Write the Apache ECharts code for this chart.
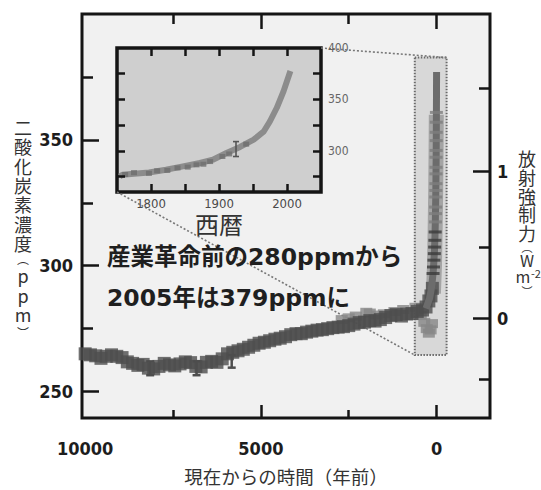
<!DOCTYPE html>
<html><head><meta charset="utf-8">
<script src="https://cdn.jsdelivr.net/npm/echarts@6/dist/echarts.min.js"></script>
<style>html,body{margin:0;padding:0;background:#fff}#c{width:541px;height:490px}</style>
</head><body><div id="c"></div>
<script>
// ---------- data ----------
// main panel: years before present -> CO2 (ppm)
const bandYears = [10000,9850,9700,9550,9400,9250,9100,8950,8800,8650,8500,8350,8200,8050,7900,7750,7600,7450,7300,7150,7000,6850,6700,6550,6400,6250,6100,5950,5800,5650,5500,5350,5200,5050,4900,4750,4600,4450,4300,4150,4000,3850,3700,3550,3400,3250,3100,2950,2800,2650,2500,2350,2200,2050,1900,1750,1600,1450,1300,1150,1000,850,700,550,400,300,220,160,120];
const bandPPM = [265.0,264.6,264.2,263.2,264.0,264.6,264.0,263.5,261.8,261.2,260.4,260.8,259.3,259.0,260.0,261.2,260.6,260.2,261.0,261.8,261.5,260.0,259.8,261.6,262.0,261.6,263.0,265.0,265.6,266.2,266.8,267.6,268.4,269.2,269.6,270.2,270.8,271.2,271.8,272.6,273.0,273.0,273.6,274.0,274.4,274.6,275.0,275.4,275.6,275.8,276.2,276.8,277.4,277.6,278.2,278.0,278.6,279.4,280.2,280.6,280.0,280.8,281.0,281.8,282.4,283.6,286.0,288.0,291.0];
const midYears = [2700,2500,2300,2000,1900,1700,1500,1200,950,600,450,350,280,220,170,130];
const midPPM = [278.6,279.3,280.0,281.5,281.2,280.4,280.9,281.8,282.6,283.5,280.2,277.5,275.0,273.2,274.5,277.0];
const errYears = [8150,6830,5830];
const errLow = [256.5,256.5,259.5];
const errHigh = [262.0,262.0,264.5];
const spikeYears = [300,250,200,160,130,100,80,60,45,35,25,18,12,8,4,0];
const spikePPM = [283,285,287,290,293,297,301,306,312,318,326,334,343,352,364,377];
const spikeWideYears = [90,60,40,25,15,8];
const spikeWidePPM = [289,300,315,330,345,360];
const spikeDarkYears = [100,88,75,63,55,48,40];
const spikeDarkPPM = [296.9,299.5,302.2,304.8,307.4,310.1,313.4];
const spikeLightYears = [33,30,27,24,21,19,17,15,14,12,10,9,7,5];
const spikeLightPPM = [317.4,320.7,323.3,327.3,329.9,332.6,336.5,339.1,343.1,345.8,349.7,353.0,357.0,360.9];
// highlighted period (schematic box) in main-panel units
const zoomBoxYears = [620, -285];
const zoomBoxPPM = [264.5, 382.7];
// inset: calendar year -> CO2 (ppm)
const insetYears = [1754,1758,1797,1822,1847,1872,1891,1911,1931,1951,1966,1975,1985,1995,2005];
const insetPPM = [275.1,276.8,279.0,281.6,284.9,288.2,291.4,297.9,303.8,310.9,319.0,328.8,341.9,358.1,377.6];
const insetSqYears = [1762,1775,1797,1809,1824,1839,1854,1867,1877,1887,1905,1915,1940];
const insetSqPPM = [277.0,278.8,278.2,280.6,281.0,283.4,284.2,286.4,287.0,289.6,294.5,297.0,306.5];
const insetErrYears = [1925];
const insetErrLow = [294.5];
const insetErrHigh = [309.0];
// axes
const xTickMajor = [0,5000];
const xTickMinor = [2500,7500];
const xLabels = [0,5000,10000];
const yTickMajor = [250,300,350];
const yTickMinor = [275,325,375];
const forcingPPM = [279.0,337.6];
const forcingText = ['0','1'];
const forcingMinorPPM = [254.9,307.5,370.5];
const insetXTicks = [1800,1850,1900,1950,2000];
const insetXLabels = [1800,1900,2000];
const insetYTicks = [275,300,325,350,375];
const insetYLabels = [300,350,400];
const X_MIN = -1520, X_MAX = 10090, Y_MIN = 239.5, Y_MAX = 400;
const IX_MIN = 1750, IX_MAX = 2050, IY_MIN = 260, IY_MAX = 400;
// titles (vertical, one glyph per line)
const yTitle = ['二','酸','化','炭','素','濃','度','︵','p','p','m','︶'];
const rTitle = ['放','射','強','制','力','︵','W','m','︶'];
const annotation = ['産業革命前の280ppmから','2005年は379ppmに'];

// ---------- layout ----------
const yTitleY = [127,146,166,185,204,224,243,258,275,295,314,332];
const rTitleY = [158,177,196,214,233,247,260,276,291];
const NUM = "'DejaVu Sans Condensed','DejaVu Sans',sans-serif";
const JP = "'Noto Sans CJK JP','Noto Sans',sans-serif";
const ANN = "'DejaVu Sans','Noto Sans CJK JP',sans-serif";
const TK = {color:'#151515', width:2.5};
const pairs = (a,b) => a.map((v,i)=>[v,b[i]]);
const plain = v => String(Math.round(v));
const isParen = ch => ch === '︵' || ch === '︶';

function ax(o){ return Object.assign({type:'value', splitLine:{show:false}, axisLine:{show:false, onZero:false}}, o); }

const chart = echarts.init(document.getElementById('c'), null, {renderer:'svg'});

const errRender = (w, color, lw) => (params, api) => {
  const t = api.coord([api.value(0), api.value(2)]);
  const b = api.coord([api.value(0), api.value(1)]);
  const st = {stroke:color, lineWidth:lw};
  return {type:'group', children:[
    {type:'line', shape:{x1:t[0],y1:t[1],x2:b[0],y2:b[1]}, style:st},
    {type:'line', shape:{x1:t[0]-w,y1:t[1],x2:t[0]+w,y2:t[1]}, style:st},
    {type:'line', shape:{x1:b[0]-w,y1:b[1],x2:b[0]+w,y2:b[1]}, style:st}
  ]};
};

const titleGraphics = [];
yTitle.forEach((ch,i)=>titleGraphics.push({id:'yt'+i, type:'text', x:23, y:yTitleY[i], z:10,
  style:{text:ch, fontSize:isParen(ch)?12:18, lineHeight:isParen(ch)?11:19, fontFamily:JP, fill:'#333', align:'center', verticalAlign:'middle'}}));
rTitle.forEach((ch,i)=>titleGraphics.push({id:'rt'+i, type:'text', x:(ch==='m'?523:527), y:rTitleY[i], z:10,
  style:{text:ch, fontSize:isParen(ch)?11:(ch==='W'||ch==='m'?16:18), lineHeight:isParen(ch)?10:(ch==='W'||ch==='m'?14:18),
    fontFamily:JP, fill:'#333', align:'center', verticalAlign:'middle'}}));
titleGraphics.push({id:'rtsup', type:'text', x:531, y:273, z:10,
  style:{text:'-2', fontSize:11, lineHeight:9, fontFamily:JP, fill:'#333', align:'left', verticalAlign:'middle'}});

const option = {
  animation:false,
  backgroundColor:'#ffffff',
  grid:[
    {left:82, right:51, top:14, bottom:72, outerBoundsMode:'none', containLabel:false, show:true, backgroundColor:'#f1f1f1', borderColor:'#151515', borderWidth:3, z:0},
    {left:117, right:220, top:48, bottom:298, outerBoundsMode:'none', containLabel:false, show:true, backgroundColor:'#cfcfcf', borderColor:'#151515', borderWidth:3.5, z:1}
  ],
  xAxis:[
    ax({gridIndex:0, z:4, position:'bottom', min:X_MIN, max:X_MAX, inverse:true,
      axisTick:{inside:true, length:13, lineStyle:TK, customValues:xTickMajor},
      axisLabel:{customValues:xLabels, formatter:plain, margin:21, fontSize:18, fontWeight:'bold', fontFamily:NUM, color:'#1d1d1d'},
      name:'現在からの時間（年前）', nameLocation:'middle', nameGap:49,
      nameTextStyle:{fontSize:18.5, fontFamily:JP, color:'#333'}}),
    ax({gridIndex:0, z:4, position:'bottom', min:X_MIN, max:X_MAX, inverse:true,
      axisTick:{inside:true, length:8, lineStyle:TK, customValues:xTickMinor}, axisLabel:{show:false}}),
    ax({gridIndex:0, z:4, position:'top', min:X_MIN, max:X_MAX, inverse:true,
      axisTick:{inside:true, length:15, lineStyle:TK, customValues:xTickMajor}, axisLabel:{show:false}}),
    ax({gridIndex:0, z:4, position:'top', min:X_MIN, max:X_MAX, inverse:true,
      axisTick:{inside:true, length:10, lineStyle:TK, customValues:xTickMinor}, axisLabel:{show:false}}),
    ax({gridIndex:1, z:8, position:'bottom', min:IX_MIN, max:IX_MAX,
      axisTick:{inside:true, length:8, lineStyle:TK, customValues:insetXTicks},
      axisLabel:{customValues:insetXLabels, formatter:plain, margin:5, fontSize:13, fontFamily:NUM, color:'#4a4a4a'},
      name:'西暦', nameLocation:'middle', nameGap:19,
      nameTextStyle:{fontSize:24, fontFamily:JP, color:'#333'}}),
    ax({gridIndex:1, z:8, position:'top', min:IX_MIN, max:IX_MAX,
      axisTick:{inside:true, length:8, lineStyle:TK, customValues:insetXTicks}, axisLabel:{show:false}})
  ],
  yAxis:[
    ax({gridIndex:0, z:4, position:'left', min:Y_MIN, max:Y_MAX,
      axisTick:{inside:true, length:17, lineStyle:TK, customValues:yTickMajor},
      axisLabel:{customValues:yTickMajor, formatter:plain, margin:9, fontSize:18, fontWeight:'bold', fontFamily:NUM, color:'#1d1d1d'}}),
    ax({gridIndex:0, z:4, position:'left', min:Y_MIN, max:Y_MAX,
      axisTick:{inside:true, length:11, lineStyle:TK, customValues:yTickMinor}, axisLabel:{show:false}}),
    ax({gridIndex:0, z:4, position:'right', min:Y_MIN, max:Y_MAX,
      axisTick:{inside:true, length:17, lineStyle:TK, customValues:forcingPPM},
      axisLabel:{customValues:forcingPPM, margin:7, fontSize:18, fontWeight:'bold', fontFamily:NUM, color:'#1d1d1d',
        formatter:v=>{let k=0,d=1e9;forcingPPM.forEach((p,i)=>{if(Math.abs(p-v)<d){d=Math.abs(p-v);k=i;}});return forcingText[k];}}}),
    ax({gridIndex:0, z:4, position:'right', min:Y_MIN, max:Y_MAX,
      axisTick:{inside:true, length:11, lineStyle:TK, customValues:forcingMinorPPM}, axisLabel:{show:false}}),
    ax({gridIndex:1, z:8, position:'left', min:IY_MIN, max:IY_MAX,
      axisTick:{inside:true, length:8, lineStyle:TK, customValues:insetYTicks}, axisLabel:{show:false}}),
    ax({gridIndex:1, z:8, position:'right', min:IY_MIN, max:IY_MAX,
      axisTick:{inside:true, length:8, lineStyle:TK, customValues:insetYTicks},
      axisLabel:{customValues:insetYLabels, formatter:plain, margin:7, fontSize:12, fontFamily:NUM, color:'#666'}})
  ],
  series:[
    {type:'custom', name:'zoombox', xAxisIndex:0, yAxisIndex:0, silent:true, z:1,
      data:[[zoomBoxYears[0], zoomBoxPPM[0], zoomBoxYears[1], zoomBoxPPM[1]]],
      encode:{x:[0,2], y:[1,3]},
      renderItem:(params, api)=>{
        const a = api.coord([api.value(0), api.value(1)]);
        const b = api.coord([api.value(2), api.value(3)]);
        return {type:'rect', shape:{x:Math.min(a[0],b[0]), y:Math.min(a[1],b[1]), width:Math.abs(b[0]-a[0]), height:Math.abs(b[1]-a[1])},
          style:{fill:'#d8d8d8', stroke:'#6a6a6a', lineWidth:2, lineDash:[1.5,1.5]}};
      }},
    {type:'line', name:'spikeWide', xAxisIndex:0, yAxisIndex:0, data:pairs(spikeWideYears, spikeWidePPM),
      symbol:'none', lineStyle:{color:'#a4a4a4', width:15}, z:2, silent:true},
    {type:'scatter', name:'mid', xAxisIndex:0, yAxisIndex:0, data:pairs(midYears, midPPM),
      symbol:'rect', symbolSize:[12,9], itemStyle:{color:'#878787'}, z:2, silent:true},
    {type:'scatter', name:'band', xAxisIndex:0, yAxisIndex:0, data:pairs(bandYears, bandPPM),
      symbol:'rect', symbolSize:[13,13], itemStyle:{color:'#4e4e4e'}, z:3, silent:true},
    {type:'custom', name:'err', xAxisIndex:0, yAxisIndex:0, data:errYears.map((y,i)=>[y, errLow[i], errHigh[i]]),
      encode:{x:0, y:[1,2]}, renderItem:errRender(4,'#4e4e4e',2.5), z:3, silent:true},
    {type:'line', name:'spike', xAxisIndex:0, yAxisIndex:0, data:pairs(spikeYears, spikePPM),
      symbol:'none', lineStyle:{color:'#6c6c6c', width:7}, z:4, silent:true},
    {type:'scatter', name:'spikeLight', xAxisIndex:0, yAxisIndex:0, data:pairs(spikeLightYears, spikeLightPPM),
      symbol:'rect', symbolSize:[13,3], itemStyle:{color:'#7e7e7e'}, z:5, silent:true},
    {type:'scatter', name:'spikeDark', xAxisIndex:0, yAxisIndex:0, data:pairs(spikeDarkYears, spikeDarkPPM),
      symbol:'rect', symbolSize:[13,3], itemStyle:{color:'#3c3c3c'}, z:5, silent:true},
    {type:'line', name:'inset', xAxisIndex:4, yAxisIndex:4, data:pairs(insetYears, insetPPM),
      symbol:'none', lineStyle:{color:'#8c8c8c', width:6}, z:6, silent:true},
    {type:'scatter', name:'insetSq', xAxisIndex:4, yAxisIndex:4, data:pairs(insetSqYears, insetSqPPM),
      symbol:'rect', symbolSize:[6,5], itemStyle:{color:'#6e6e6e'}, z:7, silent:true},
    {type:'custom', name:'insetErr', xAxisIndex:4, yAxisIndex:4, data:insetErrYears.map((y,i)=>[y, insetErrLow[i], insetErrHigh[i]]),
      encode:{x:0, y:[1,2]}, renderItem:errRender(3,'#555',1.6), z:7, silent:true}
  ],
  graphic: titleGraphics.concat([
    {id:'ann1', type:'text', x:107, y:257, z:10,
      style:{text:annotation[0], fontSize:23.5, fontWeight:'bold', fontFamily:ANN, fill:'#1f1f1f', align:'left', verticalAlign:'middle'}},
    {id:'ann2', type:'text', x:107, y:298, z:10,
      style:{text:annotation[1], fontSize:23.5, fontWeight:'bold', fontFamily:ANN, fill:'#1f1f1f', align:'left', verticalAlign:'middle'}}
  ])
};
chart.setOption(option);

// connector lines between the inset and the highlighted period
const px = (xi, v) => chart.convertToPixel({xAxisIndex:xi}, v);
const py = (yi, v) => chart.convertToPixel({yAxisIndex:yi}, v);
chart.setOption({graphic:[
  {id:'con1', type:'line', z:2, shape:{x1:px(4, IX_MAX), y1:py(4, IY_MAX), x2:px(0, zoomBoxYears[1]), y2:py(0, zoomBoxPPM[1])},
    style:{stroke:'#777', lineWidth:1.6, lineDash:[2,2]}},
  {id:'con2', type:'line', z:2, shape:{x1:px(4, IX_MIN), y1:py(4, IY_MIN), x2:px(0, zoomBoxYears[0]), y2:py(0, zoomBoxPPM[0])},
    style:{stroke:'#777', lineWidth:1.6, lineDash:[2,2]}}
]});
</script></body></html>
